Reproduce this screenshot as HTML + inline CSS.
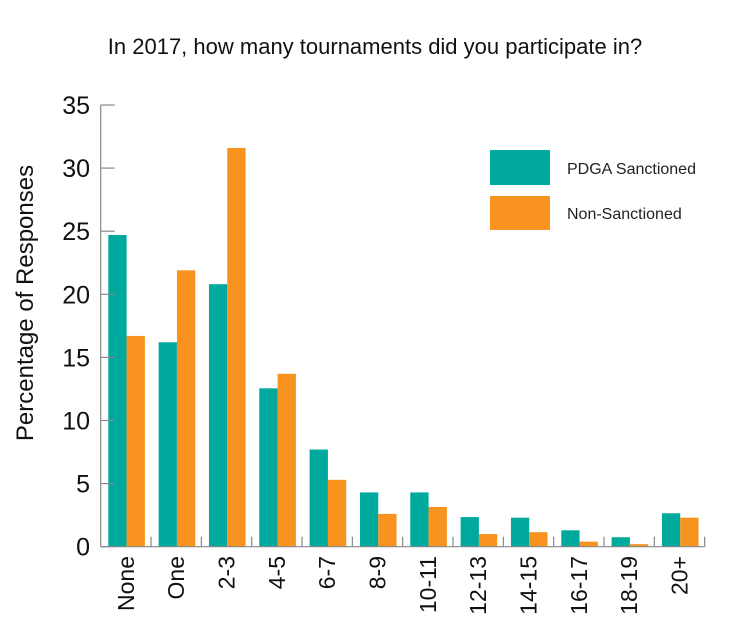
<!DOCTYPE html>
<html><head><meta charset="utf-8"><style>
body{margin:0;background:#fff;}
svg{display:block;font-family:"Liberation Sans",sans-serif;}
</style></head><body>
<svg id="chart" width="750" height="642" viewBox="0 0 750 642">
<text x="375" y="54" text-anchor="middle" font-size="22" fill="#111">In 2017, how many tournaments did you participate in?</text>
<text transform="translate(33,303) rotate(-90)" text-anchor="middle" font-size="24" fill="#111">Percentage of Responses</text>
<g id="bars"></g><g id="axes"></g>
<rect x="490" y="150" width="60" height="35" fill="#00a99d"/>
<text x="567" y="174" font-size="16" fill="#222">PDGA Sanctioned</text>
<rect x="490" y="196" width="60" height="34" fill="#f7931e"/>
<text x="567" y="219" font-size="16" fill="#222">Non-Sanctioned</text>
</svg>
<script>
const categories=["None","One","2-3","4-5","6-7","8-9","10-11","12-13","14-15","16-17","18-19","20+"];
const pdga=[24.7,16.2,20.8,12.55,7.7,4.3,4.3,2.35,2.3,1.3,0.75,2.65];
const nonSanctioned=[16.7,21.9,31.6,13.7,5.3,2.6,3.15,1.0,1.15,0.4,0.2,2.3];
const yTicks=[0,5,10,15,20,25,30,35];
const NS="http://www.w3.org/2000/svg";
const x0=100.7,gw=50.33,base=546.7,ppu=12.62,bw=18.3;
const y=v=>base-v*ppu;
const gx=i=>x0+gw*i;
function mk(t,a,p){const e=document.createElementNS(NS,t);for(const k in a)e.setAttribute(k,a[k]);p.appendChild(e);return e;}
const bars=document.getElementById('bars'),axes=document.getElementById('axes');
categories.forEach((c,i)=>{
 const r1=mk('rect',{x:gx(i)+7.6,y:y(pdga[i]),width:bw,height:pdga[i]*ppu,fill:'#00a99d'},bars);
 
 
 const r2=mk('rect',{x:gx(i)+7.6+bw,y:y(nonSanctioned[i]),width:bw,height:nonSanctioned[i]*ppu,fill:'#f7931e'},bars);
 
 
 const t=mk('text',{transform:`translate(${gx(i)+gw/2+8},556) rotate(-90)`,'text-anchor':'end','font-size':'23',fill:'#111'},axes);
 t.textContent=c;
 
 
 const tk=mk('line',{x1:gx(i+1),x2:gx(i+1),y1:base-10,y2:base,stroke:'#888','stroke-width':1.2},axes);
 
 
});
const xa=mk('line',{x1:x0,x2:gx(categories.length),y1:base,y2:base,stroke:'#888','stroke-width':1.2},axes);


const ya=mk('line',{x1:x0,x2:x0,y1:y(35),y2:base,stroke:'#888','stroke-width':1.2},axes);


yTicks.forEach(v=>{
 const l=mk('line',{x1:x0,x2:x0+14,y1:y(v),y2:y(v),stroke:'#888','stroke-width':1.2},axes);
 
 
 const t=mk('text',{x:90,y:y(v)+9,'text-anchor':'end','font-size':'25',fill:'#111'},axes);
 t.textContent=v;
 
 
});
</script>
</body></html>
